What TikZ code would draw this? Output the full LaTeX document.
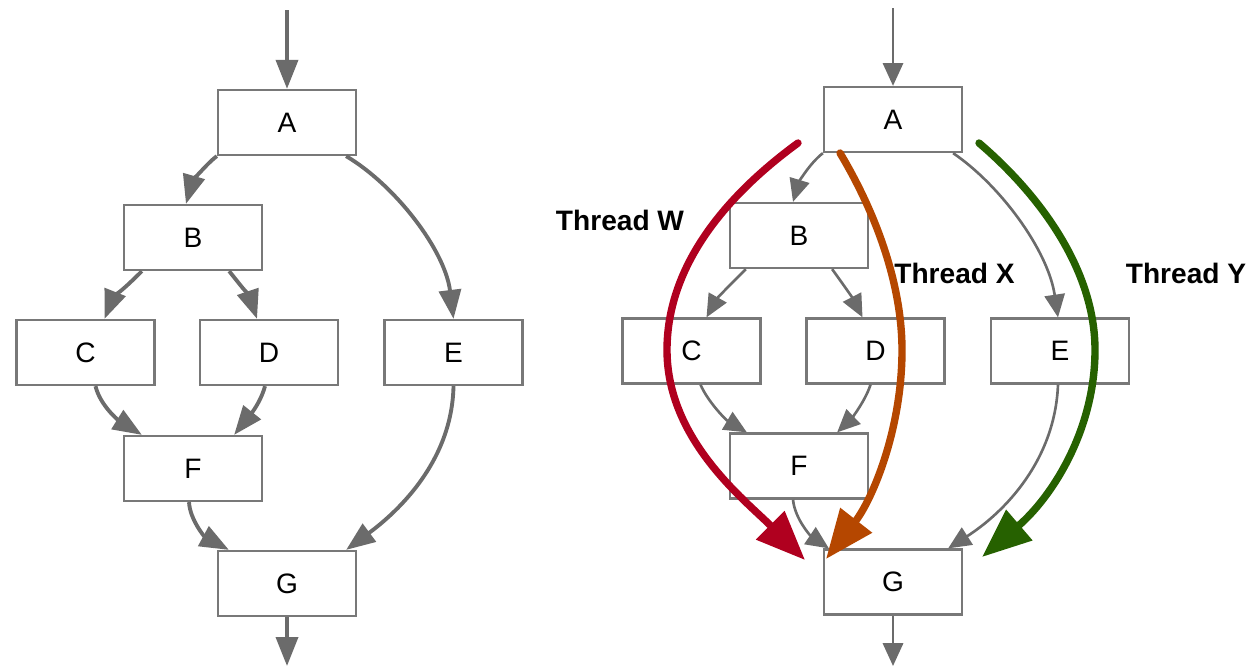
\documentclass[tikz,border=0pt]{standalone}
\usepackage{fontspec}
\setmainfont{Liberation Sans}
\usetikzlibrary{arrows.meta,calc}
\definecolor{edge}{HTML}{6B6B6B}
\definecolor{boxline}{HTML}{787878}
\definecolor{thw}{HTML}{B0001F}
\definecolor{thx}{HTML}{B54700}
\definecolor{thy}{HTML}{266100}
\begin{document}
\begin{tikzpicture}[x=0.02cm,y=-0.02cm,
  blk/.style={draw=boxline, line width=1.3pt, fill=white, minimum width=2.76cm, minimum height=1.3cm, inner sep=0pt, font=\fontsize{16}{19}\selectfont},
  eL/.style={draw=edge, line width=2.2pt, -{Triangle[length=16.5pt,width=12.5pt]}},
  eR/.style={draw=edge, line width=1.5pt, -{Triangle[length=13pt,width=11.5pt]}},
  thread/.style={line width=4.2pt, line cap=round, -{Triangle[length=28pt,width=22pt]}},
  tlabel/.style={font=\bfseries\fontsize{16}{19}\selectfont, anchor=base, inner sep=0pt}]
\useasboundingbox (0,0) rectangle (1250,667);
% ---------- left diagram ----------
\node[blk] (A) at (287,122.5) {A};
\node[blk] (B) at (193,237.5) {B};
\node[blk] (C) at (85.5,352.5) {C};
\node[blk] (D) at (269,352.5) {D};
\node[blk] (E) at (453.5,352.5) {E};
\node[blk] (F) at (193,468.5) {F};
\node[blk] (G) at (287,583.5) {G};
\coordinate (inL) at (287,10);
\coordinate (outL) at (287,666);
\draw[eL] (inL) -- (A.north);
\draw[eL] (A.south west) .. controls (206,164) and (192,183) .. ($(B.north)+(-7,0)$);
\draw[eL] ($(A.south east)+(-11,0)$) .. controls (395,185) and (445,250) .. (E.north);
\draw[eL] ($(B.south west)+(19,0)$) .. controls (130,283) and (112,300) .. ($(C.north)+(19,0)$);
\draw[eL] ($(B.south east)+(-34,0)$) .. controls (238,282) and (250,298) .. ($(D.north)+(-12,0)$);
\draw[eL] ($(C.south)+(10,0)$) .. controls (100,405) and (118,420) .. ($(F.north west)+(19,0)$);
\draw[eL] ($(D.south)+(-4,0)$) .. controls (260,405) and (246,420) .. ($(F.north east)+(-29,0)$);
\draw[eL] ($(F.south)+(-4,0)$) .. controls (190,520) and (205,537) .. ($(G.north west)+(12,0)$);
\draw[eL] (E.south) .. controls (452,460) and (400,510) .. ($(G.north east)+(-11,0)$);
\draw[eL] (G.south) -- (outL);
% ---------- right diagram ----------
\node[blk] (A2) at (893,119.5) {A};
\node[blk] (B2) at (799,235.5) {B};
\node[blk] (C2) at (691.5,351) {C};
\node[blk] (D2) at (875.5,351) {D};
\node[blk] (E2) at (1060,351) {E};
\node[blk] (F2) at (799,466) {F};
\node[blk] (G2) at (893,582) {G};
\coordinate (inR) at (893,8);
\coordinate (outR) at (893,666);
\draw[eR] (inR) -- (A2.north);
\draw[eR] (A2.south west) .. controls (810,163) and (799,182) .. ($(B2.north)+(-6,0)$);
\draw[eR] ($(A2.south east)+(-10,0)$) .. controls (1000,185) and (1048,250) .. ($(E2.north)+(-2,0)$);
\draw[eR] ($(B2.south west)+(17,0)$) .. controls (735,280) and (718,297) .. ($(C2.north)+(15,0)$);
\draw[eR] ($(B2.south east)+(-37,0)$) .. controls (840,280) and (852,297) .. ($(D2.north)+(-13,0)$);
\draw[eR] ($(C2.south)+(9,0)$) .. controls (708,402) and (726,420) .. ($(F2.north west)+(18,0)$);
\draw[eR] ($(D2.south)+(-5,0)$) .. controls (865,402) and (850,420) .. ($(F2.north east)+(-32,0)$);
\draw[eR] ($(F2.south)+(-6,0)$) .. controls (795,520) and (812,537) .. ($(G2.north west)+(6,0)$);
\draw[eR] ($(E2.south)+(-2,0)$) .. controls (1055,460) and (1005,512) .. ($(G2.north east)+(-15,0)$);
\draw[eR] (G2.south) -- (outR);
% ---------- threads ----------
\coordinate (w0) at (798,143);
\coordinate (w1) at (805,560);
\coordinate (x0) at (840,153);
\coordinate (x1) at (826,559);
\coordinate (y0) at (979,143);
\coordinate (y1) at (982,557);
\draw[thread, thw] (w0) .. controls (720,200) and (667,270) .. (667,350) .. controls (667,440) and (745,500) .. (w1);
\draw[thread, thx] (x0) .. controls (880,220) and (902,290) .. (902,350) .. controls (902,430) and (872,500) .. (x1);
\draw[thread, thy] (y0) .. controls (1040,195) and (1095,270) .. (1095,350) .. controls (1095,430) and (1052,497) .. (y1);
\node[tlabel] (lw) at (620,230) {Thread W};
\node[tlabel] (lx) at (954.5,283) {Thread X};
\node[tlabel] (ly) at (1186,283) {Thread Y};
\end{tikzpicture}
\end{document}
